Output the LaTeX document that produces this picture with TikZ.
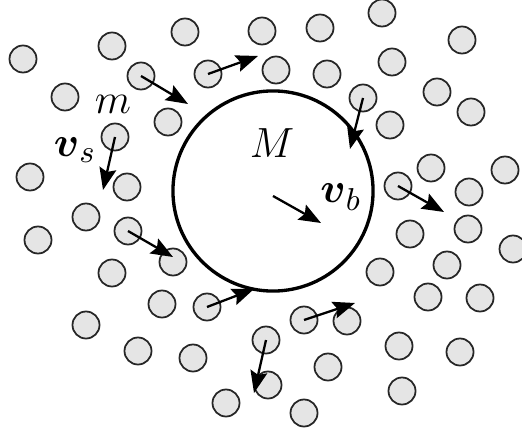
\documentclass[tikz,border=0pt]{standalone}
\usepackage{amsmath, amssymb}
\usepackage{tikz}
\usetikzlibrary{arrows.meta}
\tikzset{
  particle/.style={circle, draw=black!85, fill=gray!20, minimum size=0.27cm,
                   inner sep=0pt, line width=0.5pt},
  vel/.style={-{Stealth[length=0.22cm, width=0.17cm, inset=0.035cm]}, line width=0.65pt},
}

\begin{document}
\begin{tikzpicture}[x=0.01cm, y=-0.01cm,
      every node/.style={font=\fontsize{13}{15}\selectfont},
      body/.style={circle, draw, minimum size=2cm, inner sep=0pt, line width=0.95pt},
    ]
    \useasboundingbox (0,0) rectangle (522,431);

    % ─── heavy body ───────────────────────────────────────────────
    \node[body] (big) at (273,191) {};
    \node (lM) at (272,143) {$M$};

    % ─── bath particles (no arrow) ────────────────────────────────
    \foreach \x/\y [count=\k] in {23/59, 112/46, 185/32, 262/31, 320/28, 382/13,
        462/40, 276/70, 327/74, 392/62, 65/97, 168/122, 437/92, 390/125,
        471/112, 30/177, 127/187, 431/168, 469/192, 505/170, 86/217, 38/240,
        173/262, 112/273, 162/304, 86/325, 138/351, 193/358, 226/403,
        268/385, 347/321, 328/367, 304/413, 410/234, 468/229, 513/249,
        380/272, 447/265, 428/297, 480/298, 399/346, 460/352, 402/391}
      \node[particle] (q\k) at (\x,\y) {};

    % ─── particles with velocities ───────────────────────────────
    \node[particle] (pa) at (141,76)  {};
    \node[particle] (pb) at (208,74)  {};
    \node[particle] (pc) at (115,137) {};
    \node[particle] (pd) at (363,98)  {};
    \node[particle] (pe) at (398,186) {};
    \node[particle] (pf) at (128,231) {};
    \node[particle] (pg) at (207,307) {};
    \node[particle] (ph) at (266,340) {};
    \node[particle] (pi) at (304,320) {};

    % arrow tips
    \coordinate (ta) at (188,104);
    \coordinate (tb) at (258,56);
    \coordinate (tc) at (103,190);
    \coordinate (td) at (350,149);
    \coordinate (te) at (444,212);
    \coordinate (tf) at (173,257);
    \coordinate (tg) at (254,289);
    \coordinate (th) at (254,393);
    \coordinate (ti) at (355,303);

    \draw[vel] (pa.center) -- (ta);
    \draw[vel] (pb.center) -- (tb);
    \draw[vel] (pc.center) -- (tc);
    \draw[vel] (pd.center) -- (td);
    \draw[vel] (pe.center) -- (te);
    \draw[vel] (pf.center) -- (tf);
    \draw[vel] (pg.center) -- (tg);
    \draw[vel] (ph.center) -- (th);
    \draw[vel] (pi.center) -- (ti);

    % body velocity
    \coordinate (vb0) at (273,196);
    \coordinate (vb1) at (321,223);
    \draw[vel] (vb0) -- (vb1);

    % labels
    \node (lm)  at (113,104) {$m$};
    \node (lvs) at (75,150)  {$\boldsymbol{v}_s$};
    \node (lvb) at (341,197) {$\boldsymbol{v}_b$};

  \end{tikzpicture}
\end{document}
